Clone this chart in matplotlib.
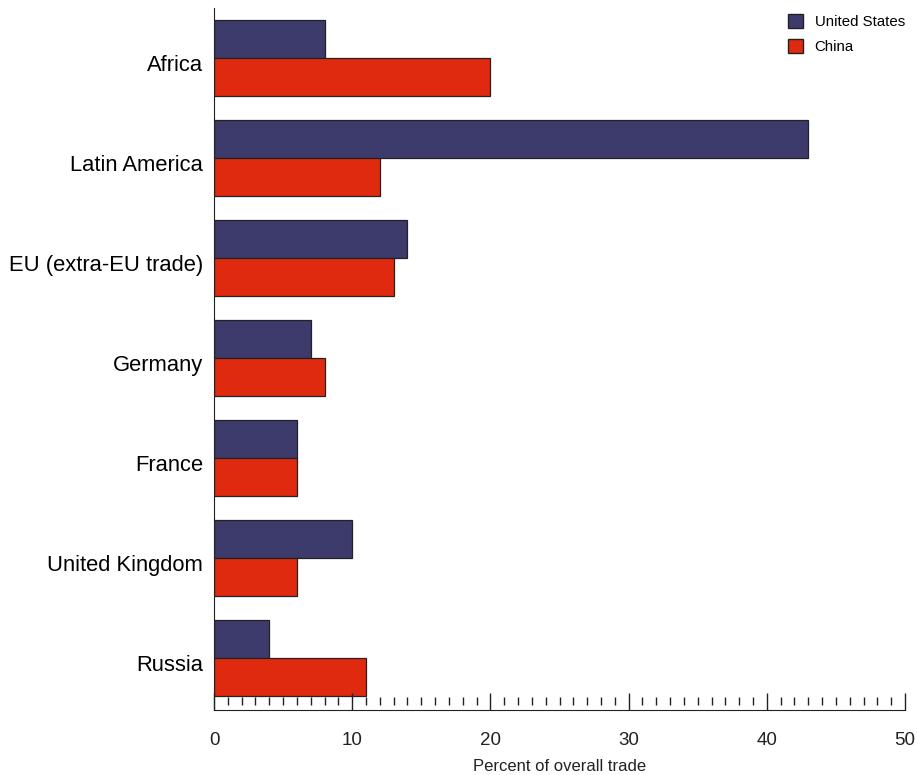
import matplotlib.pyplot as plt
import matplotlib.transforms as mtransforms
from matplotlib.patches import Patch
import numpy as np

plt.rcParams['font.family'] = ['Liberation Sans', 'DejaVu Sans']

regions = ["Africa", "Latin America", "EU (extra-EU trade)", "Germany",
           "France", "United Kingdom", "Russia"]
us_share = [8, 43, 14, 7, 6, 10, 4]
china_share = [20, 12, 13, 8, 6, 6, 11]
x_ticks = [0, 10, 20, 30, 40, 50]

us_color = "#3d3b6b"
china_color = "#e02a10"
edge = "#222222"

fig = plt.figure(figsize=(9.17, 7.75), dpi=100)
ax = fig.add_axes([214 / 917, 1 - 710 / 775, (905 - 214) / 917, 702 / 775])

y = np.arange(len(regions))
h = 0.38
ax.barh(y - h / 2, us_share, height=h, color=us_color, edgecolor=edge, linewidth=0.9)
ax.barh(y + h / 2, china_share, height=h, color=china_color, edgecolor=edge, linewidth=0.9)

ax.set_ylim(6.52, -0.5)
ax.set_xlim(0, 50)
ax.set_yticks(y)
ax.set_yticklabels(regions, fontsize=15.8)
ax.tick_params(axis='y', length=0, pad=8)
# labels sit a little below the bar pair centre
shift = mtransforms.ScaledTranslation(0, -5 / 100, fig.dpi_scale_trans)
for lab in ax.get_yticklabels():
    lab.set_transform(lab.get_transform() + shift)

ax.set_xticks(x_ticks)
ax.set_xticklabels([str(t) for t in x_ticks], fontsize=13.5, color="#222222")
ax.tick_params(axis='x', direction='in', length=12.5, width=1, pad=16, color="#222222")

# minor ticks floating just above the axis line
trans = mtransforms.blended_transform_factory(ax.transData, ax.transAxes)
minor = [v for v in range(1, 50) if v % 10 != 0]
ax.vlines(minor, 5 / 702, 13 / 702, transform=trans, color="#222222", linewidth=1)

for s in ["top", "right"]:
    ax.spines[s].set_visible(False)
ax.spines["left"].set_color("#222222")
ax.spines["bottom"].set_color("#222222")

ax.set_xlabel("Percent of overall trade", fontsize=12, labelpad=7, color="#222222")

handles = [Patch(facecolor=us_color, edgecolor=edge, label="United States"),
           Patch(facecolor=china_color, edgecolor=edge, label="China")]
ax.legend(handles=handles, loc="upper right", bbox_to_anchor=(1.0 + 3 / 691, 1.0 - 3 / 702),
          frameon=False, fontsize=10.8, handlelength=1.05, handleheight=1.05,
          handletextpad=0.75, labelspacing=0.68, borderpad=0.2, borderaxespad=0)

fig.savefig("out.png", dpi=100)
